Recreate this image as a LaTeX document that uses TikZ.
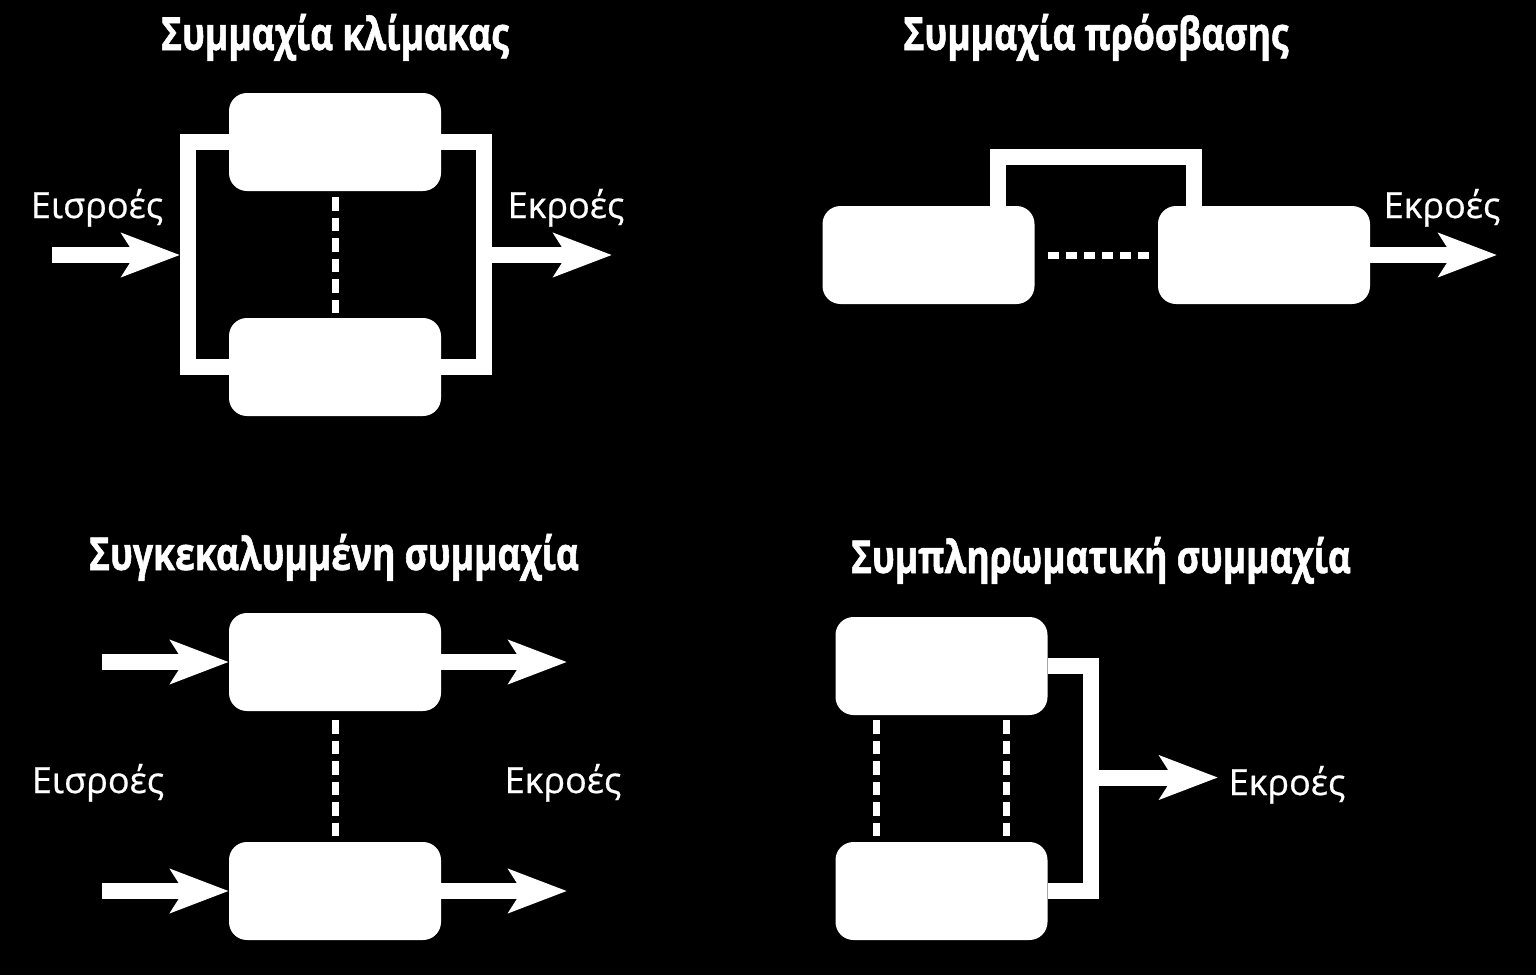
\documentclass[tikz,border=0pt]{standalone}
\usepackage{fontspec}
\setmainfont{Open Sans}
\newfontfamily\labelfont[FakeStretch=1.0,FakeBold=0.6]{Open Sans}
\newfontfamily\titlefont[FakeStretch=0.78,FakeBold=1.2]{Open Sans}
\usetikzlibrary{arrows.meta,calc}
\tikzset{
  box/.style={fill=white, draw=none, rounded corners=18pt, minimum width=212pt, minimum height=98pt, inner sep=0pt},
  wire/.style={draw=white, line width=16pt},
  flow/.style={draw=white, line width=16pt, -{Stealth[length=58pt,width=43pt,inset=13pt]}},
  vdots/.style={draw=white, line width=7pt, dash pattern=on 13.5pt off 7pt},
  hdots/.style={draw=white, line width=7pt, dash pattern=on 11pt off 7pt},
  lbl/.style={text=white, font=\labelfont\fontsize{36}{40}\selectfont, anchor=base, inner sep=0pt},
  ttl/.style={text=white, font=\titlefont\bfseries\fontsize{45.5}{50}\selectfont, anchor=base, inner sep=0pt},
}
\begin{document}
\begin{tikzpicture}[x=1pt,y=-1pt]
\fill[black] (0,0) rectangle (1536,975);
\useasboundingbox (0,0) rectangle (1536,975);

% ---------- Panel 1: scale alliance ----------
\node[ttl] (t1) at (335,50) {Συμμαχία κλίμακας};
\node[box] (a1) at (335,142) {};
\node[box] (a2) at (335,367) {};
\draw[wire] (a1.west) -- ++(-41,0) |- (a2.west);
\draw[wire] (a1.east) -- ++(43,0) |- (a2.east);
\draw[vdots] ($(a1.south)+(0,6)$) -- ($(a2.north)+(0,-5)$);
\coordinate (in1) at (52,255);
\coordinate (fl1) at (180,255);
\coordinate (fr1) at (492,255);
\coordinate (out1) at (612,255);
\draw[flow] (in1) -- (fl1);
\draw[flow] (fr1) -- (out1);
\node[lbl] (li1) at (97,218) {Εισροές};
\node[lbl] (lo1) at (566,218) {Εκροές};

% ---------- Panel 2: access alliance ----------
\node[ttl] (t2) at (1096,50) {Συμμαχία πρόσβασης};
\node[box] (b1) at (928.5,255) {};
\node[box] (b2) at (1264,255) {};
\draw[wire] ($(b1.north east)+(-37,0)$) -- ++(0,-49) -| ($(b2.north west)+(36,0)$);
\draw[hdots] ($(b1.east)+(13,0)$) -- ($(b2.west)+(-9,0)$);
\coordinate (out2) at (1497,255);
\draw[flow] (b2.east) -- (out2);
\node[lbl] (lo2) at (1442,218) {Εκροές};

% ---------- Panel 3: concealed alliance ----------
\node[ttl] (t3) at (334,570) {Συγκεκαλυμμένη συμμαχία};
\node[box] (c1) at (335,662) {};
\node[box] (c2) at (335,891) {};
\draw[vdots] ($(c1.south)+(0,9)$) -- ($(c2.north)+(0,-5)$);
\coordinate (in3a) at (102,662);
\coordinate (in3b) at (102,891);
\coordinate (out3a) at (567,662);
\coordinate (out3b) at (567,891);
\draw[flow] (in3a) -- (c1.west);
\draw[flow] (in3b) -- (c2.west);
\draw[flow] (c1.east) -- (out3a);
\draw[flow] (c2.east) -- (out3b);
\node[lbl] (li3) at (98,793) {Εισροές};
\node[lbl] (lo3) at (563,793) {Εκροές};

% ---------- Panel 4: complementary alliance ----------
\node[ttl] (t4) at (1101,573) {Συμπληρωματική συμμαχία};
\node[box] (d1) at (941.5,666) {};
\node[box] (d2) at (941.5,891) {};
\draw[wire] (d1.east) -- ++(43,0) |- (d2.east);
\draw[vdots] ($(d1.south west)+(41.5,5)$) -- ($(d2.north west)+(41.5,-5)$);
\draw[vdots] ($(d1.south east)+(-41.5,5)$) -- ($(d2.north east)+(-41.5,-5)$);
\coordinate (j4) at (1090.5,777.5);
\coordinate (out4) at (1218,777.5);
\draw[flow] (j4) -- (out4);
\node[lbl] (lo4) at (1287,795) {Εκροές};
\end{tikzpicture}
\end{document}
